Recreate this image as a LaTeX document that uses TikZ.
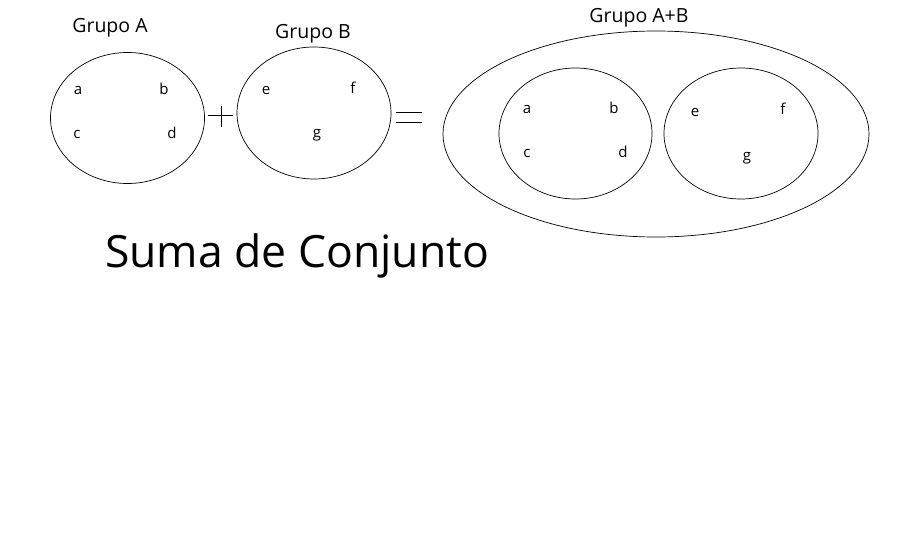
\documentclass[tikz,border=0pt]{standalone}
\usepackage{fontspec}
\setmainfont{Open Sans}
\usetikzlibrary{shapes.geometric}
\begin{document}
\begin{tikzpicture}[x=1pt,y=-1pt,
  setring/.style={draw=black,line width=0.7pt,ellipse,inner sep=0pt},
  grp/.style={font=\fontsize{19.5}{22}\selectfont,inner sep=0pt},
  elem/.style={font=\fontsize{15}{17}\selectfont,inner sep=0pt},
  opline/.style={line width=0.7pt}]
\useasboundingbox (0,0) rectangle (907,543);
\fill[white] (0,0) rectangle (907,543);
% left sets
\node[setring,minimum width=154,minimum height=131] (A) at (127.5,118) {};
\node[setring,minimum width=154,minimum height=132] (B) at (314,113) {};
\node[grp] (gA) at (110,28) {Grupo A};
\node[grp] (gB) at (313,34) {Grupo B};
\node[elem] (a1) at (78,90) {a};
\node[elem] (b1) at (164,89) {b};
\node[elem] (c1) at (77,134) {c};
\node[elem] (d1) at (172,133) {d};
\node[elem] (e1) at (266,90) {e};
\node[elem] (f1) at (353,88) {f};
\node[elem] (g1) at (317,135) {g};
% plus and equals
\coordinate (pl) at (208,115); \coordinate (pr) at (233,115);
\coordinate (pt) at (221,106); \coordinate (pb) at (221,127);
\draw[opline] (pl) -- (pr);
\draw[opline] (pt) -- (pb);
\coordinate (e1l) at (396,112); \coordinate (e1r) at (422,112);
\coordinate (e2l) at (396,122); \coordinate (e2r) at (422,122);
\draw[opline] (e1l) -- (e1r);
\draw[opline] (e2l) -- (e2r);
% union
\node[setring,minimum width=426,minimum height=206] (U) at (656,134) {};
\node[setring,minimum width=153,minimum height=131] (UA) at (575.5,133.5) {};
\node[setring,minimum width=154,minimum height=131] (UB) at (741,133.5) {};
\node[grp] (gU) at (639,18) {Grupo A+B};
\node[elem] (a2) at (527,109) {a};
\node[elem] (b2) at (614,108) {b};
\node[elem] (c2) at (527,153) {c};
\node[elem] (d2) at (623,152) {d};
\node[elem] (e2) at (695,112) {e};
\node[elem] (f2) at (783,109) {f};
\node[elem] (g2) at (747,158) {g};
% title
\node[font=\fontsize{44.5}{50}\selectfont,inner sep=0pt,anchor=base west] (T) at (105,267) {Suma de Conjunto};
\end{tikzpicture}
\end{document}
